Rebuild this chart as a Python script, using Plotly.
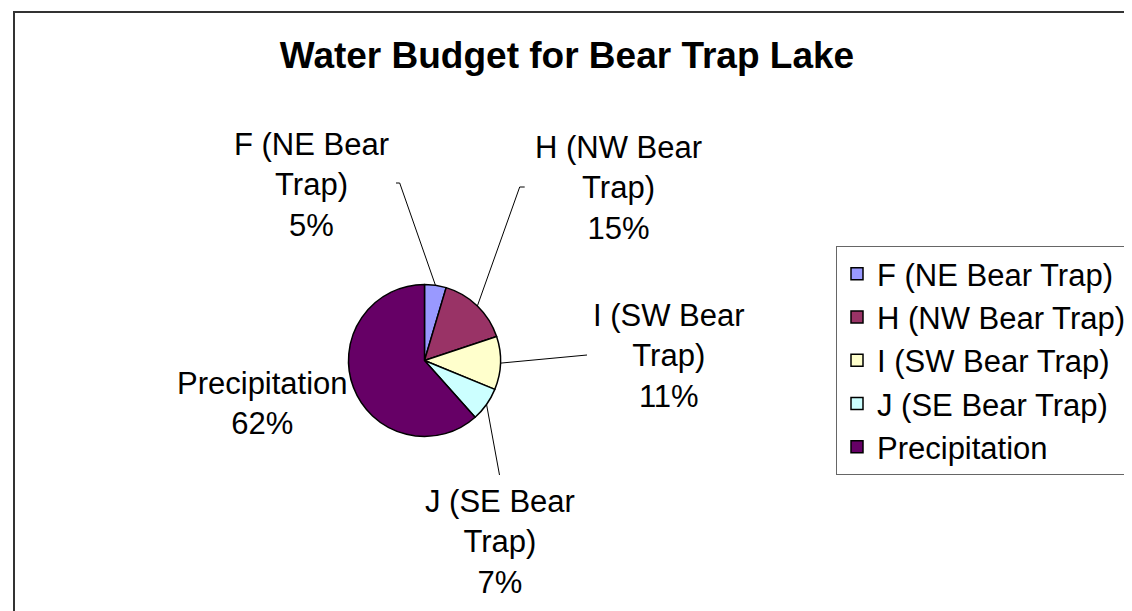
import math
import plotly.graph_objects as go

# ---- data ----
categories = ["F (NE Bear Trap)", "H (NW Bear Trap)", "I (SW Bear Trap)",
              "J (SE Bear Trap)", "Precipitation"]
wrapped_labels = ["F (NE Bear<br>Trap)", "H (NW Bear<br>Trap)", "I (SW Bear<br>Trap)",
                  "J (SE Bear<br>Trap)", "Precipitation"]
values = [4.6, 15.3, 11.3, 7.2, 61.6]
colors = ["#9999FF", "#993366", "#FFFFCC", "#CCFFFF", "#660066"]
title_text = "Water Budget for Bear Trap Lake"

# ---- layout constants (pixels) ----
W, H = 1132, 611
CX, CY, R = 416.5, 352.5, 76
FONT = "Liberation Sans, Arial, sans-serif"
label_pos = [(303, 177), (610, 180), (661, 348), (492, 534), (254, 395)]
leader_end = [(391.7, 175), (511.7, 179), (579, 347), (491.5, 467), None]
leader_tick = [(388, 175), (516.7, 179), None, None, None]


def px(x):
    return x / W


def py(y):
    return 1 - y / H


total = sum(values)
fig = go.Figure(go.Pie(
    labels=categories, values=values, sort=False, direction="clockwise", rotation=0,
    marker=dict(colors=colors, line=dict(color="black", width=1.5)),
    textinfo="none", hoverinfo="label+percent",
    domain=dict(x=[px(CX - R), px(CX + R)], y=[py(CY + R), py(CY - R)]),
))

shapes = [dict(type="rect", xref="paper", yref="paper", x0=px(6), y0=py(H + 20),
               x1=px(W + 20), y1=py(4), line=dict(color="#333333", width=2))]
annotations = []
cum = 0.0
for i, v in enumerate(values):
    mid = (cum + v / 2) / total * 2 * math.pi
    cum += v
    sx, sy = CX + R * math.sin(mid), CY - R * math.cos(mid)
    pct = round(v / total * 100)
    lx, ly = label_pos[i]
    annotations.append(dict(
        x=px(lx), y=py(ly), xref="paper", yref="paper", xanchor="center", yanchor="middle",
        text=f"{wrapped_labels[i]}<br>{pct}%", showarrow=False, align="center",
        font=dict(family=FONT, size=31, color="black")))
    if leader_end[i] is not None:
        ex, ey = leader_end[i]
        shapes.append(dict(type="line", xref="paper", yref="paper", x0=px(sx), y0=py(sy),
                           x1=px(ex), y1=py(ey), line=dict(color="black", width=1)))
        if leader_tick[i] is not None:
            tx, ty = leader_tick[i]
            shapes.append(dict(type="line", xref="paper", yref="paper", x0=px(ex), y0=py(ey),
                               x1=px(tx), y1=py(ty), line=dict(color="black", width=1)))

fig.update_layout(
    width=W, height=H, margin=dict(l=0, r=0, t=0, b=0),
    paper_bgcolor="white", plot_bgcolor="white",
    title=dict(text=f"<b>{title_text}</b>", x=px(559), y=py(47), xanchor="center",
               yanchor="middle", font=dict(family=FONT, size=37, color="black")),
    showlegend=True,
    legend=dict(x=px(828), y=py(238), xanchor="left", yanchor="top",
                bordercolor="#666666", borderwidth=1, bgcolor="white",
                font=dict(family=FONT, size=31, color="black")),
    shapes=shapes, annotations=annotations,
)
fig.write_html("out.html")
